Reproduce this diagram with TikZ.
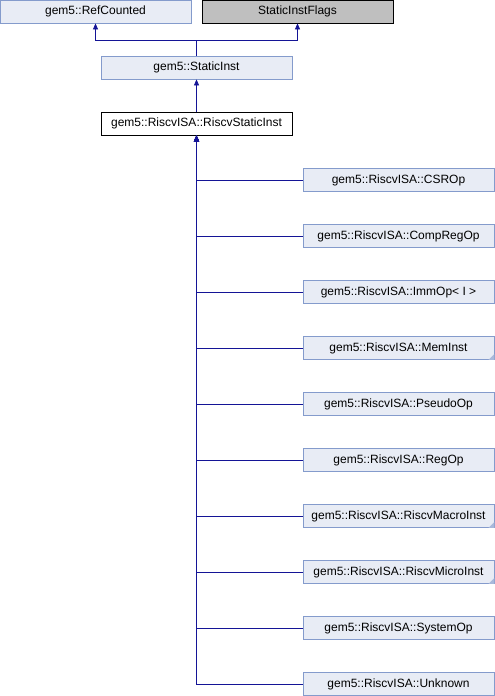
\documentclass[tikz,border=0pt]{standalone}
\usepackage{fontspec}
\setmainfont{Liberation Sans}
\usetikzlibrary{arrows.meta}
\definecolor{boxfill}{RGB}{232,236,245}
\definecolor{boxline}{RGB}{132,155,204}
\definecolor{edgecol}{RGB}{20,20,150}
\definecolor{grayfill}{RGB}{191,191,191}
\tikzset{
  cls/.style={draw=boxline, fill=boxfill, line width=0.8pt, minimum width=191pt, minimum height=23pt, inner sep=0pt, font=\fontsize{12}{14}\selectfont},
  grayc/.style={cls, draw=black, fill=grayfill},
  curc/.style={cls, draw=black, fill=white},
  arr/.style={draw=edgecol, line width=0.8pt, {Triangle[length=6pt,width=5pt]}-},
  edge/.style={draw=edgecol, line width=0.8pt},
  fold/.style={fill=boxline!70}
}
\newcommand{\foldcorner}[1]{\fill[fold] ([xshift=-6pt]#1.south east) -- (#1.south east) -- ([yshift=6pt]#1.south east) -- cycle;}
\begin{document}
\begin{tikzpicture}[x=1pt,y=-1pt]
\useasboundingbox (0,0) rectangle (495,696);
\node[cls] (rc) at (95.5,11.5) {gem5::RefCounted};
\node[grayc] (sif) at (297.5,11.5) {StaticInstFlags};
\node[cls] (si) at (196.5,67.5) {gem5::StaticInst};
\node[curc] (rs) at (196.5,123.5) {gem5::RiscvISA::RiscvStaticInst};
\coordinate (j) at (196.5,40);
\draw[arr] (rc.south) |- (j);
\draw[arr] (sif.south) |- (j);
\draw[edge] (si.north) -- (j);
\draw[arr] (si.south) -- (rs.north);
\foreach \n/\t/\y in {c1/CSROp/180, c2/CompRegOp/236, c3/ImmOp< I >/292, c4/MemInst/348, c5/PseudoOp/404, c6/RegOp/460, c7/RiscvMacroInst/516, c8/RiscvMicroInst/572, c9/SystemOp/628, c10/Unknown/684}{
  \node[cls] (\n) at (398.5,\y) {gem5::RiscvISA::\t};
  \draw[arr] (rs.south) |- (\n.west);
}
\foldcorner{c4}
\foldcorner{c7}
\foldcorner{c8}
\end{tikzpicture}
\end{document}
